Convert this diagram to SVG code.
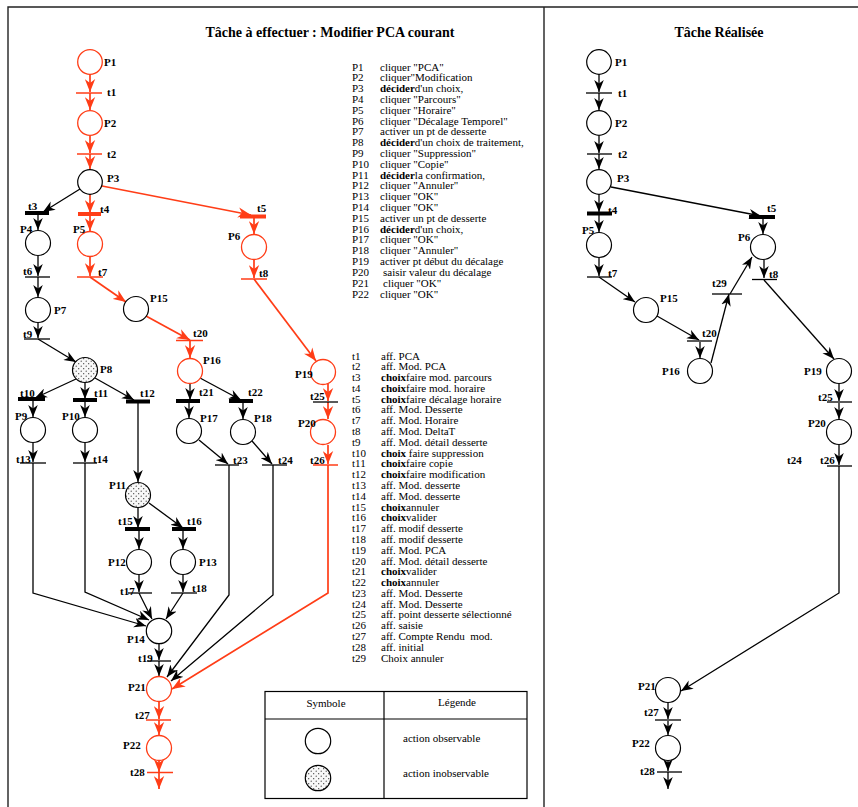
<svg xmlns="http://www.w3.org/2000/svg" width="858" height="807" viewBox="0 0 858 807">
<style>
.pl{fill:#fff;stroke:#000;stroke-width:1.2}
.pr{fill:#fff;stroke:#ff3d17;stroke-width:1.3}
.pd{fill:url(#dots);stroke:#000;stroke-width:1.2}
.tb{stroke:#000;stroke-width:1.3}
.tk{stroke:#000;stroke-width:4}
.tbr{stroke:#ff3d17;stroke-width:1.5}
.tkr{stroke:#ff3d17;stroke-width:4}
.cb{fill:none;stroke:#000;stroke-width:1.3;marker-end:url(#ab)}
.cr{fill:none;stroke:#ff3d17;stroke-width:1.7;marker-end:url(#ar)}
.lb{font-family:"Liberation Serif",serif;font-weight:bold;font-size:11px;fill:#000}
.tx{font-family:"Liberation Serif",serif;font-size:11px;fill:#000}
.ti{font-family:"Liberation Serif",serif;font-weight:bold;font-size:14px;fill:#000}
.b{font-weight:bold}
.fr{fill:none;stroke:#222;stroke-width:1.4}
</style>
<defs>
<marker id="ab" viewBox="0 0 10 8" refX="10" refY="4" markerWidth="12" markerHeight="10" markerUnits="userSpaceOnUse" orient="auto"><path d="M0,0 L10,4 L0,8 L3,4 z" fill="#000"/></marker>
<marker id="ar" viewBox="0 0 10 8" refX="10" refY="4" markerWidth="13" markerHeight="11" markerUnits="userSpaceOnUse" orient="auto"><path d="M0,0 L10,4 L0,8 L3,4 z" fill="#ff3d17"/></marker>
<pattern id="dots" width="5" height="5" patternUnits="userSpaceOnUse"><rect width="5" height="5" fill="#f8f8f8"/><circle cx="1.2" cy="1.2" r="0.6" fill="#333"/><circle cx="3.7" cy="3.7" r="0.6" fill="#333"/></pattern>
</defs>
<rect width="858" height="807" fill="#fff"/>
<g id="frame">
<path class="fr" d="M8,807 V7 H858 M544,7 V807"/>
</g>
<text class="ti" x="330" y="37" text-anchor="middle">Tâche à effectuer : Modifier PCA courant</text>
<text class="ti" x="719" y="37" text-anchor="middle">Tâche Réalisée</text>

<g id="connectors">
<!-- left panel -->
<path class="cr" d="M90,74 V92"/>
<path class="cr" d="M90,93 V110"/>
<path class="cr" d="M90,136 V153"/>
<path class="cr" d="M90,154 V169"/>
<path class="cb" d="M80,189 L43,212"/>
<path class="cr" d="M90,194 V213"/>
<path class="cr" d="M102,186 L251,215"/>
<path class="cb" d="M38,214 V230"/>
<path class="cr" d="M90,215 V231"/>
<path class="cr" d="M254,218 V234"/>
<path class="cb" d="M38,256 V276"/>
<path class="cb" d="M38,277 V297"/>
<path class="cb" d="M38,323 V338"/>
<path class="cb" d="M38,339 L76,362"/>
<path class="cr" d="M90,257 V276"/>
<path class="cr" d="M90,277 L126,302"/>
<path class="cr" d="M146,316 L190,340"/>
<path class="cr" d="M190,341 V358"/>
<path class="cr" d="M254,260 V278"/>
<path class="cr" d="M254,279 L316,361"/>
<path class="cb" d="M76,379 L35,398"/>
<path class="cb" d="M85,383 V399"/>
<path class="cb" d="M95,378 L134,400"/>
<path class="cb" d="M33,400 V417"/>
<path class="cb" d="M85,401 V417"/>
<path class="cb" d="M33,443 V462"/>
<path class="cb" d="M85,443 V462"/>
<path class="cb" d="M138,403 V482"/>
<path class="cb" d="M138,508 V528"/>
<path class="cb" d="M149,503 L183,528"/>
<path class="cb" d="M139,530 V549"/>
<path class="cb" d="M183,530 V549"/>
<path class="cb" d="M139,575 V592"/>
<path class="cb" d="M183,575 V592"/>
<path class="cb" d="M190,384 V400"/>
<path class="cb" d="M200,378 L241,400"/>
<path class="cb" d="M189,402 V418"/>
<path class="cb" d="M243,402 V419"/>
<path class="cb" d="M199,440 L228,464"/>
<path class="cb" d="M252,441 L272,464"/>
<path class="cr" d="M328,384 V401"/>
<path class="cr" d="M328,402 V419"/>
<path class="cr" d="M328,445 V464"/>
<path class="cb" d="M33,463 V593 L146,626"/>
<path class="cb" d="M85,463 V592 L149,620"/>
<path class="cb" d="M139,593 L152,619"/>
<path class="cb" d="M183,593 L166,619"/>
<path class="cb" d="M229,465 V595 L167,677"/>
<path class="cb" d="M273,465 V595 L171,681"/>
<path class="cr" d="M328,465 V593 L172,689"/>
<path class="cb" d="M159,644 V660"/>
<path class="cb" d="M159,661 V676"/>
<path class="cr" d="M159,702 V719"/>
<path class="cr" d="M159,720 V735"/>
<path class="cr" d="M159,761 V772"/>
<path class="cr" d="M159,773 V789"/>
<!-- right panel -->
<path class="cb" d="M599,74 V92"/>
<path class="cb" d="M599,93 V110"/>
<path class="cb" d="M599,136 V153"/>
<path class="cb" d="M599,154 V169"/>
<path class="cb" d="M599,194 V212"/>
<path class="cb" d="M599,215 V232"/>
<path class="cb" d="M599,258 V276"/>
<path class="cb" d="M599,277 L635,302"/>
<path class="cb" d="M657,316 L699,340"/>
<path class="cb" d="M700,342 V358"/>
<path class="cb" d="M711,363 L729,294"/>
<path class="cb" d="M730,294 L752,257"/>
<path class="cb" d="M611,187 L761,216"/>
<path class="cb" d="M763,218 V234"/>
<path class="cb" d="M764,260 V278"/>
<path class="cb" d="M764,280 L834,359"/>
<path class="cb" d="M839,384 V401"/>
<path class="cb" d="M839,403 V419"/>
<path class="cb" d="M839,445 V465"/>
<path class="cb" d="M839,466 V593 L681,691"/>
<path class="cb" d="M668,703 V719"/>
<path class="cb" d="M668,721 V735"/>
<path class="cb" d="M668,761 V771"/>
<path class="cb" d="M668,772 V789"/>
</g>

<!-- left panel places -->
<g id="L-P1"><circle class="pr" cx="90" cy="62" r="12.3"/><text class="lb" x="104" y="66">P1</text></g>
<g id="L-P2"><circle class="pr" cx="90" cy="123" r="12.3"/><text class="lb" x="104" y="127">P2</text></g>
<g id="L-P3"><circle class="pl" cx="90" cy="182" r="12.3"/><text class="lb" x="107" y="182">P3</text></g>
<g id="L-P4"><circle class="pl" cx="38" cy="243" r="12.5"/><text class="lb" x="20" y="233">P4</text></g>
<g id="L-P5"><circle class="pr" cx="90" cy="244" r="12.5"/><text class="lb" x="73" y="233">P5</text></g>
<g id="L-P6"><circle class="pr" cx="254" cy="247" r="12.5"/><text class="lb" x="228" y="240">P6</text></g>
<g id="L-P7"><circle class="pl" cx="38" cy="310" r="12.5"/><text class="lb" x="54" y="314">P7</text></g>
<g id="L-P15"><circle class="pl" cx="136" cy="309" r="12.5"/><text class="lb" x="150" y="302">P15</text></g>
<g id="L-P8"><circle class="pd" cx="85" cy="370" r="12.5"/><text class="lb" x="100" y="373">P8</text></g>
<g id="L-P16"><circle class="pr" cx="190" cy="371" r="12.5"/><text class="lb" x="203" y="364">P16</text></g>
<g id="L-P19"><circle class="pr" cx="323" cy="372" r="12.5"/><text class="lb" x="295" y="378">P19</text></g>
<g id="L-P9"><circle class="pl" cx="33" cy="430" r="12.5"/><text class="lb" x="15" y="420">P9</text></g>
<g id="L-P10"><circle class="pl" cx="85" cy="430" r="12.5"/><text class="lb" x="62" y="420">P10</text></g>
<g id="L-P17"><circle class="pl" cx="189" cy="431" r="12.5"/><text class="lb" x="200" y="422">P17</text></g>
<g id="L-P18"><circle class="pl" cx="243" cy="432" r="12.5"/><text class="lb" x="254" y="422">P18</text></g>
<g id="L-P20"><circle class="pr" cx="323" cy="432" r="12.5"/><text class="lb" x="298" y="427">P20</text></g>
<g id="L-P11"><circle class="pd" cx="138" cy="495" r="12.5"/><text class="lb" x="109" y="489">P11</text></g>
<g id="L-P12"><circle class="pl" cx="139" cy="562" r="12.5"/><text class="lb" x="108" y="566">P12</text></g>
<g id="L-P13"><circle class="pl" cx="183" cy="562" r="12.5"/><text class="lb" x="199" y="566">P13</text></g>
<g id="L-P14"><circle class="pl" cx="159" cy="631" r="12.7"/><text class="lb" x="127" y="643">P14</text></g>
<g id="L-P21"><circle class="pr" cx="159" cy="689" r="12.5"/><text class="lb" x="128" y="691">P21</text></g>
<g id="L-P22"><circle class="pr" cx="159" cy="748" r="12.5"/><text class="lb" x="123" y="749">P22</text></g>

<!-- left panel transitions -->
<g id="L-t1"><line class="tbr" x1="76" y1="93" x2="102" y2="93"/><text class="lb" x="107" y="96">t1</text></g>
<g id="L-t2"><line class="tbr" x1="77" y1="154" x2="102" y2="154"/><text class="lb" x="107" y="158">t2</text></g>
<g id="L-t3"><line class="tk" x1="25" y1="213" x2="49" y2="213"/><text class="lb" x="28" y="210">t3</text></g>
<g id="L-t4"><line class="tkr" x1="78" y1="214" x2="101" y2="214"/><text class="lb" x="100" y="213">t4</text></g>
<g id="L-t5"><line class="tkr" x1="240" y1="216.5" x2="266" y2="216.5"/><text class="lb" x="257" y="212">t5</text></g>
<g id="L-t6"><line class="tb" x1="25" y1="277" x2="50" y2="277"/><text class="lb" x="23" y="275">t6</text></g>
<g id="L-t7"><line class="tbr" x1="77" y1="277" x2="103" y2="277"/><text class="lb" x="98" y="276">t7</text></g>
<g id="L-t8"><line class="tbr" x1="241" y1="279" x2="267" y2="279"/><text class="lb" x="259" y="277">t8</text></g>
<g id="L-t9"><line class="tb" x1="24" y1="339" x2="50" y2="339"/><text class="lb" x="23" y="338">t9</text></g>
<g id="L-t20"><line class="tbr" x1="176" y1="340.5" x2="203" y2="340.5"/><text class="lb" x="193" y="337">t20</text></g>
<g id="L-t10"><line class="tk" x1="18" y1="399" x2="45" y2="399"/><text class="lb" x="20" y="397">t10</text></g>
<g id="L-t11"><line class="tk" x1="73" y1="400" x2="97" y2="400"/><text class="lb" x="94" y="397">t11</text></g>
<g id="L-t12"><line class="tk" x1="126" y1="401.5" x2="150" y2="401.5"/><text class="lb" x="140" y="397">t12</text></g>
<g id="L-t21"><line class="tk" x1="176" y1="401" x2="200" y2="401"/><text class="lb" x="199" y="396">t21</text></g>
<g id="L-t22"><line class="tk" x1="229" y1="401" x2="253" y2="401"/><text class="lb" x="248" y="396">t22</text></g>
<g id="L-t25"><line class="tb" x1="313" y1="402" x2="338" y2="402"/><text class="lb" x="310" y="400">t25</text></g>
<g id="L-t13"><line class="tb" x1="20" y1="463" x2="46" y2="463"/><text class="lb" x="16" y="463">t13</text></g>
<g id="L-t14"><line class="tb" x1="73" y1="463" x2="97" y2="463"/><text class="lb" x="93" y="463">t14</text></g>
<g id="L-t23"><line class="tb" x1="215" y1="465" x2="239" y2="465"/><text class="lb" x="233" y="464">t23</text></g>
<g id="L-t24"><line class="tb" x1="262" y1="465" x2="287" y2="465"/><text class="lb" x="278" y="464">t24</text></g>
<g id="L-t26"><line class="tbr" x1="313" y1="465" x2="338" y2="465"/><text class="lb" x="310" y="464">t26</text></g>
<g id="L-t15"><line class="tk" x1="125" y1="529" x2="150" y2="529"/><text class="lb" x="118" y="525">t15</text></g>
<g id="L-t16"><line class="tk" x1="172" y1="529" x2="196" y2="529"/><text class="lb" x="187" y="525">t16</text></g>
<g id="L-t17"><line class="tb" x1="128" y1="593" x2="152" y2="593"/><text class="lb" x="120" y="595">t17</text></g>
<g id="L-t18"><line class="tb" x1="171" y1="593" x2="197" y2="593"/><text class="lb" x="192" y="592">t18</text></g>
<g id="L-t19"><line class="tb" x1="147" y1="661" x2="171" y2="661"/><text class="lb" x="138" y="662">t19</text></g>
<g id="L-t27"><line class="tbr" x1="146" y1="720" x2="171" y2="720"/><text class="lb" x="135" y="719">t27</text></g>
<g id="L-t28"><line class="tbr" x1="147" y1="772.5" x2="173" y2="772.5"/><text class="lb" x="130" y="776">t28</text></g>

<!-- right panel places -->
<g id="R-P1"><circle class="pl" cx="599" cy="62" r="12.3"/><text class="lb" x="615" y="66">P1</text></g>
<g id="R-P2"><circle class="pl" cx="599" cy="123" r="12.3"/><text class="lb" x="615" y="127">P2</text></g>
<g id="R-P3"><circle class="pl" cx="599" cy="182" r="12.3"/><text class="lb" x="617" y="182">P3</text></g>
<g id="R-P5"><circle class="pl" cx="599" cy="245" r="12.5"/><text class="lb" x="582" y="234">P5</text></g>
<g id="R-P6"><circle class="pl" cx="763" cy="247" r="12.5"/><text class="lb" x="738" y="241">P6</text></g>
<g id="R-P15"><circle class="pl" cx="646" cy="310" r="12.5"/><text class="lb" x="660" y="302">P15</text></g>
<g id="R-P16"><circle class="pl" cx="700" cy="371" r="12.5"/><text class="lb" x="662" y="375">P16</text></g>
<g id="R-P19"><circle class="pl" cx="839" cy="371" r="12.5"/><text class="lb" x="804" y="375">P19</text></g>
<g id="R-P20"><circle class="pl" cx="839" cy="432" r="12.5"/><text class="lb" x="808" y="427">P20</text></g>
<g id="R-P21"><circle class="pl" cx="668" cy="690" r="12.5"/><text class="lb" x="638" y="690">P21</text></g>
<g id="R-P22"><circle class="pl" cx="668" cy="748" r="12.5"/><text class="lb" x="632" y="747">P22</text></g>

<!-- right panel transitions -->
<g id="R-t1"><line class="tb" x1="586" y1="93" x2="612" y2="93"/><text class="lb" x="618" y="97">t1</text></g>
<g id="R-t2"><line class="tb" x1="587" y1="154" x2="612" y2="154"/><text class="lb" x="618" y="158">t2</text></g>
<g id="R-t4"><line class="tk" x1="587" y1="213.5" x2="612" y2="213.5"/><text class="lb" x="608" y="214">t4</text></g>
<g id="R-t5"><line class="tk" x1="749" y1="217" x2="775" y2="217"/><text class="lb" x="767" y="212">t5</text></g>
<g id="R-t7"><line class="tb" x1="587" y1="277" x2="612" y2="277"/><text class="lb" x="608" y="277">t7</text></g>
<g id="R-t8"><line class="tb" x1="752" y1="279.5" x2="777" y2="279.5"/><text class="lb" x="769" y="278">t8</text></g>
<g id="R-t29"><line class="tb" x1="712" y1="294" x2="742" y2="294"/><text class="lb" x="712" y="287">t29</text></g>
<g id="R-t20"><line class="tb" x1="687" y1="341" x2="712" y2="341"/><text class="lb" x="702" y="337">t20</text></g>
<g id="R-t25"><line class="tb" x1="827" y1="402" x2="852" y2="402"/><text class="lb" x="818" y="401">t25</text></g>
<g id="R-t26"><line class="tb" x1="827" y1="466" x2="852" y2="466"/><text class="lb" x="820" y="464">t26</text></g>
<g id="R-t24"><text class="lb" x="787" y="464">t24</text></g>
<g id="R-t27"><line class="tb" x1="655" y1="720" x2="681" y2="720"/><text class="lb" x="644" y="716">t27</text></g>
<g id="R-t28"><line class="tb" x1="657" y1="772" x2="682" y2="772"/><text class="lb" x="640" y="775">t28</text></g>

<!-- description lists -->
<g id="place-list">
<text class="tx" x="352" y="70.5">P1<tspan x="352" dy="10.81">P2</tspan><tspan x="352" dy="10.81">P3</tspan><tspan x="352" dy="10.81">P4</tspan><tspan x="352" dy="10.81">P5</tspan><tspan x="352" dy="10.81">P6</tspan><tspan x="352" dy="10.81">P7</tspan><tspan x="352" dy="10.81">P8</tspan><tspan x="352" dy="10.81">P9</tspan><tspan x="352" dy="10.81">P10</tspan><tspan x="352" dy="10.81">P11</tspan><tspan x="352" dy="10.81">P12</tspan><tspan x="352" dy="10.81">P13</tspan><tspan x="352" dy="10.81">P14</tspan><tspan x="352" dy="10.81">P15</tspan><tspan x="352" dy="10.81">P16</tspan><tspan x="352" dy="10.81">P17</tspan><tspan x="352" dy="10.81">P18</tspan><tspan x="352" dy="10.81">P19</tspan><tspan x="352" dy="10.81">P20</tspan><tspan x="352" dy="10.81">P21</tspan><tspan x="352" dy="10.81">P22</tspan></text>
<text class="tx" x="380" y="70.5">cliquer "PCA"<tspan x="380" dy="10.81">cliquer"Modification</tspan><tspan x="380" dy="10.81"><tspan class="b">décider</tspan>d'un choix,</tspan><tspan x="380" dy="10.81">cliquer "Parcours"</tspan><tspan x="380" dy="10.81">cliquer "Horaire"</tspan><tspan x="380" dy="10.81">cliquer "Décalage Temporel"</tspan><tspan x="380" dy="10.81">activer un pt de desserte</tspan><tspan x="380" dy="10.81"><tspan class="b">décider</tspan>d'un choix de traitement,</tspan><tspan x="380" dy="10.81">cliquer "Suppression"</tspan><tspan x="380" dy="10.81">cliquer "Copie"</tspan><tspan x="380" dy="10.81"><tspan class="b">décider</tspan>la confirmation,</tspan><tspan x="380" dy="10.81">cliquer "Annuler"</tspan><tspan x="380" dy="10.81">cliquer "OK"</tspan><tspan x="380" dy="10.81">cliquer "OK"</tspan><tspan x="380" dy="10.81">activer un pt de desserte</tspan><tspan x="380" dy="10.81"><tspan class="b">décider</tspan>d'un choix,</tspan><tspan x="380" dy="10.81">cliquer "OK"</tspan><tspan x="380" dy="10.81">cliquer "Annuler"</tspan><tspan x="380" dy="10.81">activer pt début du décalage</tspan><tspan x="383" dy="10.81">saisir valeur du décalage</tspan><tspan x="383" dy="10.81">cliquer "OK"</tspan><tspan x="380" dy="10.81">cliquer "OK"</tspan></text>
</g>
<g id="transition-list">
<text class="tx" x="352" y="359.5">t1<tspan x="352" dy="10.79">t2</tspan><tspan x="352" dy="10.79">t3</tspan><tspan x="352" dy="10.79">t4</tspan><tspan x="352" dy="10.79">t5</tspan><tspan x="352" dy="10.79">t6</tspan><tspan x="352" dy="10.79">t7</tspan><tspan x="352" dy="10.79">t8</tspan><tspan x="352" dy="10.79">t9</tspan><tspan x="352" dy="10.79">t10</tspan><tspan x="352" dy="10.79">t11</tspan><tspan x="352" dy="10.79">t12</tspan><tspan x="352" dy="10.79">t13</tspan><tspan x="352" dy="10.79">t14</tspan><tspan x="352" dy="10.79">t15</tspan><tspan x="352" dy="10.79">t16</tspan><tspan x="352" dy="10.79">t17</tspan><tspan x="352" dy="10.79">t18</tspan><tspan x="352" dy="10.79">t19</tspan><tspan x="352" dy="10.79">t20</tspan><tspan x="352" dy="10.79">t21</tspan><tspan x="352" dy="10.79">t22</tspan><tspan x="352" dy="10.79">t23</tspan><tspan x="352" dy="10.79">t24</tspan><tspan x="352" dy="10.79">t25</tspan><tspan x="352" dy="10.79">t26</tspan><tspan x="352" dy="10.79">t27</tspan><tspan x="352" dy="10.79">t28</tspan><tspan x="352" dy="10.79">t29</tspan></text>
<text class="tx" x="381" y="359.5" style="white-space:pre">aff. PCA<tspan x="381" dy="10.79">aff. Mod. PCA</tspan><tspan x="381" dy="10.79"><tspan class="b">choix</tspan>faire mod. parcours</tspan><tspan x="381" dy="10.79"><tspan class="b">choix</tspan>faire mod. horaire</tspan><tspan x="381" dy="10.79"><tspan class="b">choix</tspan>faire décalage horaire</tspan><tspan x="381" dy="10.79">aff. Mod. Desserte</tspan><tspan x="381" dy="10.79">aff. Mod. Horaire</tspan><tspan x="381" dy="10.79">aff. Mod. DeltaT</tspan><tspan x="381" dy="10.79">aff. Mod. détail desserte</tspan><tspan x="381" dy="10.79"><tspan class="b">choix</tspan> faire suppression</tspan><tspan x="381" dy="10.79"><tspan class="b">choix</tspan>faire copie</tspan><tspan x="381" dy="10.79"><tspan class="b">choix</tspan>faire modification</tspan><tspan x="381" dy="10.79">aff. Mod. desserte</tspan><tspan x="381" dy="10.79">aff. Mod. desserte</tspan><tspan x="381" dy="10.79"><tspan class="b">choix</tspan>annuler</tspan><tspan x="381" dy="10.79"><tspan class="b">choix</tspan>valider</tspan><tspan x="381" dy="10.79">aff. modif desserte</tspan><tspan x="381" dy="10.79">aff. modif desserte</tspan><tspan x="381" dy="10.79">aff. Mod. PCA</tspan><tspan x="381" dy="10.79">aff. Mod. détail desserte</tspan><tspan x="381" dy="10.79"><tspan class="b">choix</tspan>valider</tspan><tspan x="381" dy="10.79"><tspan class="b">choix</tspan>annuler</tspan><tspan x="381" dy="10.79">aff. Mod. Desserte</tspan><tspan x="381" dy="10.79">aff. Mod. Desserte</tspan><tspan x="381" dy="10.79">aff. point desserte sélectionné</tspan><tspan x="381" dy="10.79">aff. saisie</tspan><tspan x="381" dy="10.79">aff. Compte Rendu  mod.</tspan><tspan x="381" dy="10.79">aff. initial</tspan><tspan x="381" dy="10.79">Choix annuler</tspan></text>
</g>

<!-- legend table -->
<g id="legend">
<rect x="265" y="691.5" width="262" height="107" fill="#fff" stroke="#000" stroke-width="1.2"/>
<line x1="265" y1="719" x2="527" y2="719" stroke="#000" stroke-width="1.2"/>
<line x1="384" y1="691.5" x2="384" y2="798.5" stroke="#000" stroke-width="1.2"/>
<text class="tx" x="326" y="707" text-anchor="middle">Symbole</text>
<text class="tx" x="457" y="706" text-anchor="middle">Légende</text>
<circle class="pl" cx="318" cy="741" r="12.7"/>
<circle class="pd" cx="318" cy="778" r="12.7"/>
<text class="tx" x="403" y="742">action observable</text>
<text class="tx" x="403" y="777">action inobservable</text>
</g>
</svg>
